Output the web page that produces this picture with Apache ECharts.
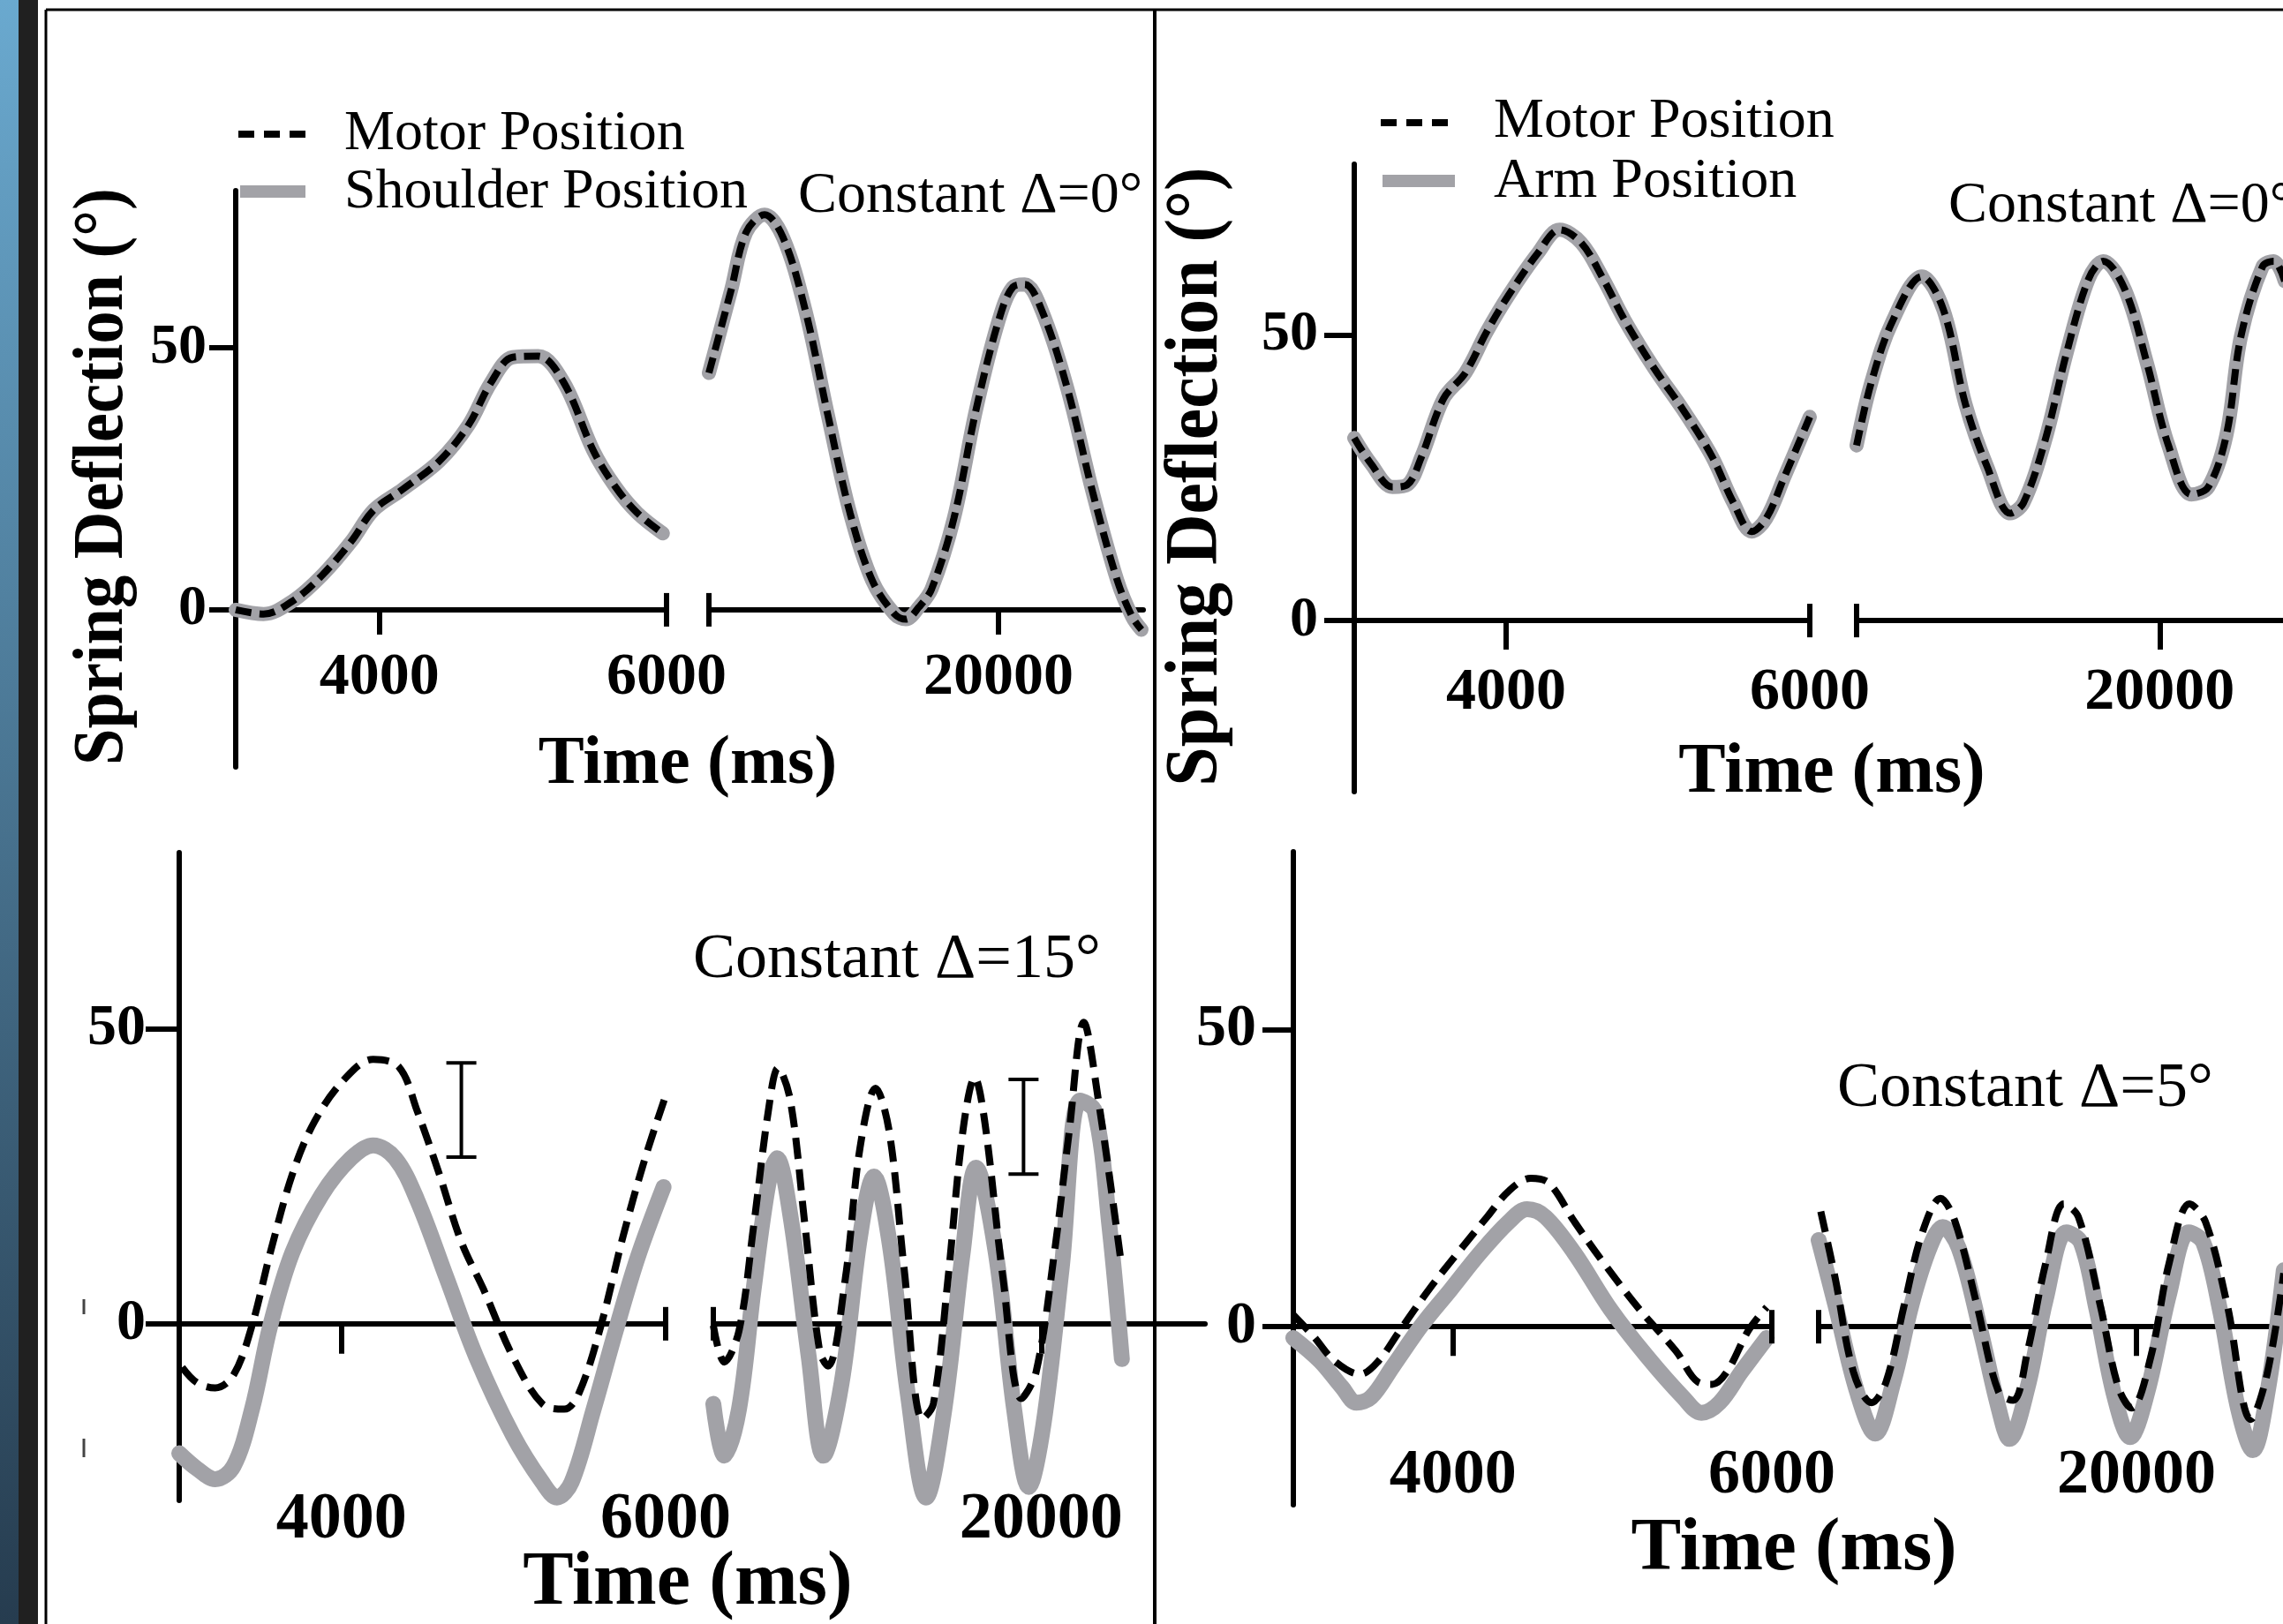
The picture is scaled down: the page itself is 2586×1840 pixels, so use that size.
<!DOCTYPE html>
<html>
<head>
<meta charset="utf-8">
<script src="https://cdn.jsdelivr.net/npm/echarts@6.0.0/dist/echarts.min.js"></script>
<style>
html, body { margin: 0; padding: 0; background: #fff; }
#chart { width: 2586px; height: 1840px; }
</style>
</head>
<body>
<div id="chart"></div>
<script>
// axis ranges (ms / degrees)
const leftRange = [3000, 6000];
const rightRange = [16000, 22000];
const yRange = [-30, 80];
const xTicksLeft = [4000];
const xLabelsLeft = [4000, 6000];
const xTicksRight = [20000];
const xLabelsRight = [20000];
const yTicks = [0, 50];
const breakLeft = [[6000]];
const breakRight = [[16000]];

// top-left: motor and shoulder overlap
const tlLeft = [[3000,0],[3194,-0.8],[3398,1.7],[3602,6.6],[3806,13.1],[3959,19.0],[4163,23],[4418,28.4],[4622,35.3],[4776,43.3],[4929,48.2],[5107,48.4],[5286,43.3],[5490,30.4],[5643,23.5],[5796,18.5],[5974,14.6]];
const tlRight = [[16000,45.2],[16308,61.1],[16513,72],[16769,75.4],[17026,71],[17333,57.1],[17641,37.3],[17949,18.5],[18256,5.6],[18564,-0.8],[18720,-1.8],[18900,0.5],[19077,4],[19385,17.5],[19692,38.3],[20000,55.1],[20200,61.6],[20362,62.1],[20600,57.1],[20950,42.3],[21300,22.5],[21641,5.6],[21846,-1.3],[21975,-3.8]];

// top-right: motor and arm overlap
const trLeft = [[3000,32],[3110,27.5],[3253,23.4],[3349,23.8],[3444,28.8],[3588,38.9],[3731,43.4],[3874,50.7],[4018,57.1],[4209,64.4],[4352,68.5],[4495,66.2],[4639,59.9],[4782,52.6],[4973,44.3],[5164,37.0],[5355,28.8],[5498,20.6],[5618,15.6],[5713,17.9],[5833,25.2],[6000,35.7]];
const trRight = [[16000,30.7],[16191,41.6],[16478,52.6],[16861,60.3],[17148,54.4],[17435,38],[17722,27],[18030,18.8],[18201,20.6],[18488,31.6],[18775,47.1],[19062,59.9],[19254,63],[19541,58],[19828,45.3],[20115,30.7],[20420,22.1],[20641,23.4],[20880,32.5],[21072,49.8],[21359,62.1],[21504,63],[21650,59.5]];

// bottom-left: constant delta 15
const blLeftMotor = [[3018,-7.4],[3109,-10],[3222,-10.9],[3335,-8.7],[3449,-0.3],[3562,12.1],[3698,25.4],[3834,34.3],[4015,41.4],[4196,44.9],[4355,43.6],[4468,36.1],[4604,25.4],[4740,13.9],[4876,5.9],[5058,-5.6],[5239,-13.6],[5375,-14.5],[5465,-11.8],[5601,-0.3],[5737,14.8],[5873,28.1],[6000,38.7]];
const blLeftShoulder = [[3000,-22],[3109,-24.6],[3222,-26.4],[3335,-24.2],[3449,-14.5],[3562,-0.3],[3698,12.1],[3879,21.9],[4060,28.1],[4196,30.3],[4332,28.1],[4468,21],[4650,7.7],[4831,-5.6],[5058,-18.9],[5239,-26.9],[5330,-29.5],[5420,-26.9],[5556,-14.5],[5692,-1.2],[5828,11.3],[5987,23.2]];
const blRightMotor = [[16000,-0.3],[16134,-6.5],[16313,-1.2],[16492,16.6],[16671,36.1],[16790,43.4],[16940,37.9],[17119,16.6],[17298,-4.7],[17400,-7.2],[17611,7.7],[17790,29.9],[17980,40.0],[18148,32.5],[18327,9.5],[18551,-16.2],[18685,-13.6],[18864,7.7],[19043,32.5],[19190,41.8],[19312,34.3],[19535,7.7],[19759,-12.7],[19938,-8.2],[20162,12.1],[20341,32.5],[20520,51.2],[20699,37.9],[20967,11.3]];
const blRightShoulder = [[16000,-13.6],[16134,-22.4],[16313,-14.5],[16492,5.9],[16671,23.7],[16776,28.1],[16940,18.4],[17164,-5.6],[17343,-22.4],[17566,-10],[17790,14.8],[17960,25],[18148,13.9],[18372,-11.8],[18596,-29.5],[18819,-14.5],[19043,12.1],[19205,26.5],[19446,12.1],[19670,-14.5],[19849,-27.7],[20028,-17.1],[20251,9.5],[20475,37.9],[20654,36.1],[20833,16.6],[20985,-6]];
const blErrLeft = [[4740, 28.3, 44.3]];
const blErrRight = [[19785, 25.4, 41.5]];

// bottom-right: constant delta 5
const brLeftMotor = [[3000,2.0],[3123,-1.5],[3259,-5.8],[3419,-8.0],[3533,-5.8],[3669,-0.6],[3851,6.3],[4033,12.5],[4215,18.5],[4352,22.9],[4489,25.0],[4602,24.2],[4762,17.7],[4944,10.8],[5171,2.9],[5399,-4.1],[5536,-9.3],[5627,-9.7],[5718,-7.6],[5854,-0.6],[5968,3.3]];
const brLeftArm = [[3000,-1.9],[3168,-5.8],[3305,-10.2],[3396,-12.8],[3487,-11.9],[3624,-6.7],[3806,0.3],[3988,6.3],[4170,12.4],[4352,17.7],[4466,19.8],[4580,18.5],[4762,12.4],[4989,2.9],[5217,-5.0],[5444,-11.9],[5558,-14.5],[5672,-12.8],[5809,-7.6],[5968,-1.9]];
const brRightMotor = [[16027,19.4],[16210,8.1],[16438,-7.6],[16667,-12.8],[16849,-9.3],[17078,3.7],[17306,15.9],[17534,21.6],[17717,17.7],[17991,3.7],[18265,-11.0],[18447,-12.4],[18630,-4.1],[18858,10.7],[19087,20.7],[19269,18.5],[19543,3.7],[19772,-10.2],[19940,-13.7],[20182,-5.0],[20411,10.7],[20667,20.7],[20868,17.7],[21142,3.7],[21440,-15.6],[21644,-8],[21854,9]];
const brRightArm = [[16000,14.6],[16210,3.7],[16484,-11.0],[16712,-18.0],[16941,-9.3],[17169,3.7],[17397,13.3],[17562,16.8],[17762,13.3],[18036,-0.6],[18265,-13.7],[18402,-18.9],[18630,-10.2],[18858,4.6],[19120,15.9],[19300,14.2],[19498,2.9],[19726,-11.9],[19920,-18.6],[20137,-11.0],[20411,5.5],[20660,15.9],[20840,14.2],[21050,2.9],[21278,-13.7],[21465,-20.8],[21650,-11],[21854,9.5]];

const FONT = "'Liberation Serif', 'Times New Roman', serif";
const GRAY = '#a2a2a7';

const grids = [
    { left: 267, top: 216, width: 488, height: 653 },
    { left: 803, top: 216, width: 492, height: 653 },
    { left: 1534, top: 186, width: 516, height: 711 },
    { left: 2103, top: 186, width: 515, height: 711 },
    { left: 203, top: 966, width: 551, height: 734 },
    { left: 808, top: 966, width: 557, height: 734 },
    { left: 1465, top: 965, width: 542, height: 740 },
    { left: 2060, top: 965, width: 540, height: 740 }
].map(g => Object.assign({ containLabel: false, outerBoundsMode: 'none' }, g));

// per panel: x label font/margin (from grid bottom), tick lengths, y label font/margin
const panels = [
    { xFont: 68, xMargin: -135, xTick: 28, yFont: 64, yMargin: 33, yTick: 30, dash: [18, 9], gray: 16 },
    { xFont: 68, xMargin: -146, xTick: 33, yFont: 64, yMargin: 41, yTick: 34, dash: [18, 9], gray: 16 },
    { xFont: 74, xMargin: -14, xTick: 34, yFont: 66, yMargin: 38, yTick: 38, dash: [24, 12], gray: 18 },
    { xFont: 72, xMargin: -69, xTick: 33, yFont: 68, yMargin: 42, yTick: 35, dash: [24, 12], gray: 18 }
];

function xAxisFor(gi, p, isLeft) {
    return {
        type: 'value', gridIndex: gi,
        min: isLeft ? leftRange[0] : rightRange[0],
        max: isLeft ? leftRange[1] : rightRange[1],
        axisLine: { show: true, onZero: true, lineStyle: { color: '#000', width: 6 } },
        axisTick: { show: true, customValues: isLeft ? xTicksLeft : xTicksRight, length: p.xTick,
            lineStyle: { color: '#000', width: 6 } },
        axisLabel: { show: true, customValues: isLeft ? xLabelsLeft : xLabelsRight, margin: p.xMargin,
            formatter: v => String(v),
            fontFamily: FONT, fontWeight: 'bold', fontSize: p.xFont, color: '#000',
            showMinLabel: true, showMaxLabel: true },
        splitLine: { show: false }
    };
}

function yAxisFor(gi, p, isLeft) {
    return {
        type: 'value', gridIndex: gi, min: yRange[0], max: yRange[1], show: isLeft,
        axisLine: { show: true, onZero: false, lineStyle: { color: '#000', width: 6 } },
        axisTick: { show: true, customValues: yTicks, length: p.yTick, lineStyle: { color: '#000', width: 6 } },
        axisLabel: { show: true, customValues: yTicks, margin: p.yMargin, formatter: v => String(v),
            fontFamily: FONT, fontWeight: 'bold', fontSize: p.yFont, color: '#000' },
        splitLine: { show: false }
    };
}

const xAxes = [], yAxes = [];
for (let gi = 0; gi < 8; gi++) {
    const p = panels[Math.floor(gi / 2)];
    xAxes.push(xAxisFor(gi, p, gi % 2 === 0));
    yAxes.push(yAxisFor(gi, p, gi % 2 === 0));
}

function grayLine(gi, data) {
    const p = panels[Math.floor(gi / 2)];
    return { type: 'line', xAxisIndex: gi, yAxisIndex: gi, data: data, smooth: 0.35, symbol: 'none',
        clip: false, z: 2, lineStyle: { color: GRAY, width: p.gray, cap: 'round', join: 'round' } };
}
function dashLine(gi, data) {
    const p = panels[Math.floor(gi / 2)];
    return { type: 'line', xAxisIndex: gi, yAxisIndex: gi, data: data, smooth: 0.35, symbol: 'none',
        clip: false, z: 3, lineStyle: { color: '#000', width: 8, type: p.dash, cap: 'butt' } };
}
function breakMark(gi, data) {
    return { type: 'custom', xAxisIndex: gi, yAxisIndex: gi, data: data, clip: false, z: 4,
        encode: { x: 0 },
        renderItem: function (params, api) {
            const c = api.coord([api.value(0), 0]);
            return { type: 'line', shape: { x1: c[0], y1: c[1] - 19, x2: c[0], y2: c[1] + 19 },
                style: { stroke: '#000', lineWidth: 6 } };
        } };
}
function errorBar(gi, data) {
    return { type: 'custom', xAxisIndex: gi, yAxisIndex: gi, data: data, clip: false, z: 4,
        encode: { x: 0, y: [1, 2] },
        renderItem: function (params, api) {
            const lo = api.coord([api.value(0), api.value(1)]);
            const hi = api.coord([api.value(0), api.value(2)]);
            const s = { stroke: '#000', lineWidth: 4 };
            return { type: 'group', children: [
                { type: 'line', shape: { x1: lo[0], y1: lo[1], x2: hi[0], y2: hi[1] }, style: s },
                { type: 'line', shape: { x1: lo[0] - 17, y1: lo[1], x2: lo[0] + 17, y2: lo[1] }, style: s },
                { type: 'line', shape: { x1: hi[0] - 17, y1: hi[1], x2: hi[0] + 17, y2: hi[1] }, style: s }
            ] };
        } };
}

const series = [
    grayLine(0, tlLeft), dashLine(0, tlLeft),
    grayLine(1, tlRight), dashLine(1, tlRight),
    grayLine(2, trLeft), dashLine(2, trLeft),
    grayLine(3, trRight), dashLine(3, trRight),
    grayLine(4, blLeftShoulder), dashLine(4, blLeftMotor),
    grayLine(5, blRightShoulder), dashLine(5, blRightMotor),
    grayLine(6, brLeftArm), dashLine(6, brLeftMotor),
    grayLine(7, brRightArm), dashLine(7, brRightMotor),
    breakMark(0, breakLeft), breakMark(1, breakRight),
    breakMark(2, breakLeft), breakMark(3, breakRight),
    breakMark(4, breakLeft), breakMark(5, breakRight),
    breakMark(6, breakLeft), breakMark(7, breakRight),
    errorBar(4, blErrLeft), errorBar(5, blErrRight)
];

function txt(text, x, y, size, opts) {
    opts = opts || {};
    return { type: 'text', x: x, y: y, rotation: opts.rotation || 0,
        scaleX: opts.scaleX || 1, scaleY: opts.scaleY || 1, z: 10,
        style: { text: text, x: 0, y: 0, fontFamily: FONT, fontSize: size,
            fontWeight: opts.bold ? 'bold' : 'normal', fill: '#000',
            align: opts.align || 'left', verticalAlign: 'middle' } };
}
function seg(x1, y1, x2, y2, w, color, dash) {
    return { type: 'line', z: 10, shape: { x1: x1, y1: y1, x2: x2, y2: y2 },
        style: { stroke: color, lineWidth: w, lineDash: dash || null, lineCap: 'butt' } };
}

const graphics = [
    { type: 'rect', z: 0, shape: { x: 0, y: 0, width: 21, height: 1840 },
        style: { fill: { type: 'linear', x: 0, y: 0, x2: 0, y2: 1,
            colorStops: [{ offset: 0, color: '#6aa9cf' }, { offset: 1, color: '#263c4f' }] } } },
    { type: 'rect', z: 0, shape: { x: 21, y: 0, width: 22, height: 1840 }, style: { fill: '#202020' } },
    seg(52, 11, 2586, 11, 3, '#000'),
    seg(52, 11, 52, 1840, 3, '#000'),
    seg(1308, 11, 1308, 1840, 4, '#000'),
    seg(95, 1472, 95, 1489, 3, '#444'),
    seg(95, 1630, 95, 1651, 3, '#444'),
    // legends
    seg(270, 152, 348, 152, 8, '#000', [18, 11]),
    seg(272, 217, 346, 217, 14, GRAY),
    txt('Motor Position', 390, 152, 64),
    txt('Shoulder Position', 390, 218, 64),
    seg(1564, 139, 1650, 139, 8, '#000', [18, 11]),
    seg(1566, 205, 1648, 205, 14, GRAY),
    txt('Motor Position', 1692, 138, 64),
    txt('Arm Position', 1692, 206, 64),
    // panel titles
    txt('Constant \u0394=0\u00b0', 904, 223, 66),
    txt('Constant \u0394=0\u00b0', 2207, 234, 66),
    txt('Constant \u0394=15\u00b0', 785, 1088, 72),
    txt('Constant \u0394=5\u00b0', 2081, 1234, 72),
    // axis titles
    txt('Time (ms)', 779, 867, 78, { bold: true, align: 'center' }),
    txt('Time (ms)', 2075, 876, 80, { bold: true, align: 'center' }),
    txt('Time (ms)', 779, 1795, 86, { bold: true, align: 'center' }),
    txt('Time (ms)', 2032, 1756, 85, { bold: true, align: 'center' }),
    txt('Spring Deflection (\u00b0)', 117, 540, 80, { bold: true, align: 'center', rotation: Math.PI / 2, scaleX: 0.93 }),
    txt('Spring Deflection (\u00b0)', 1356, 540, 84, { bold: true, align: 'center', rotation: Math.PI / 2, scaleX: 0.95 })
];

const chart = echarts.init(document.getElementById('chart'));
chart.setOption({
    backgroundColor: '#fff',
    animation: false,
    grid: grids,
    xAxis: xAxes,
    yAxis: yAxes,
    series: series,
    graphic: graphics
});
</script>
</body>
</html>
